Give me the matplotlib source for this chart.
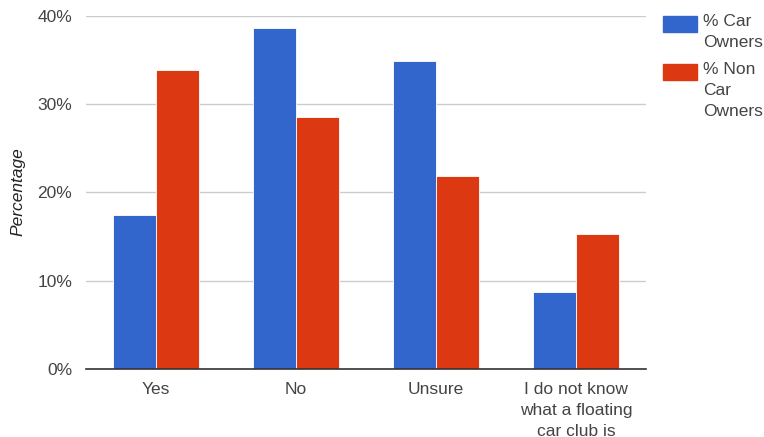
import matplotlib
matplotlib.use("Agg")
import matplotlib.pyplot as plt
import numpy as np

plt.rcParams['font.family'] = ['Liberation Sans', 'DejaVu Sans']

categories = ["Yes", "No", "Unsure", "I do not know\nwhat a floating\ncar club is"]
car_owners = [17.4, 38.6, 34.9, 8.7]
non_car_owners = [33.9, 28.5, 21.9, 15.3]
series_names = ["% Car\nOwners", "% Non\nCar\nOwners"]
yticks = [0, 10, 20, 30, 40]
ytick_labels = ["0%", "10%", "20%", "30%", "40%"]

blue = "#3366CC"
red = "#DC3912"
text_col = "#444444"
fs = 12.5

fig = plt.figure(figsize=(7.64, 4.37), dpi=100)
ax = fig.add_axes([86 / 764, 1 - 369 / 437, 560 / 764, 353 / 437])

x = np.arange(len(categories))
w = 0.31
ax.bar(x - w / 2, car_owners, width=w, color=blue, edgecolor="white", linewidth=0.6, zorder=3)
ax.bar(x + w / 2, non_car_owners, width=w, color=red, edgecolor="white", linewidth=0.6, zorder=3)

ax.set_xlim(-0.5, len(categories) - 0.5)
ax.set_ylim(0, 40)
ax.set_yticks(yticks)
ax.set_yticklabels(ytick_labels)
ax.set_xticks(x)
ax.set_xticklabels(categories, linespacing=1.5, va="top")
ax.tick_params(axis="both", length=0, colors=text_col, labelsize=fs)
ax.tick_params(axis="x", pad=9)
ax.tick_params(axis="y", pad=10)
ax.grid(axis="y", color="#cccccc", linewidth=1, zorder=0)
for s in ["top", "right", "left"]:
    ax.spines[s].set_visible(False)
ax.spines["bottom"].set_color("#333333")
ax.spines["bottom"].set_linewidth(1.2)
ax.spines["bottom"].set_zorder(4)

fig.text(18 / 764, 1 - 192 / 437, "Percentage", rotation=90, style="italic",
         color="#222222", fontsize=fs, ha="center", va="center")

# legend, drawn in figure coordinates
leg_items = [(blue, series_names[0], 16), (red, series_names[1], 64)]
for col, name, ytop in leg_items:
    fig.patches.append(plt.Rectangle((663 / 764, 1 - (ytop + 16) / 437), 34 / 764, 16 / 437,
                                     transform=fig.transFigure, color=col, figure=fig))
    fig.text(703 / 764, 1 - (ytop - 2) / 437, name, color=text_col, fontsize=fs,
             ha="left", va="top", linespacing=1.5)

fig.savefig("out.png", dpi=100)
